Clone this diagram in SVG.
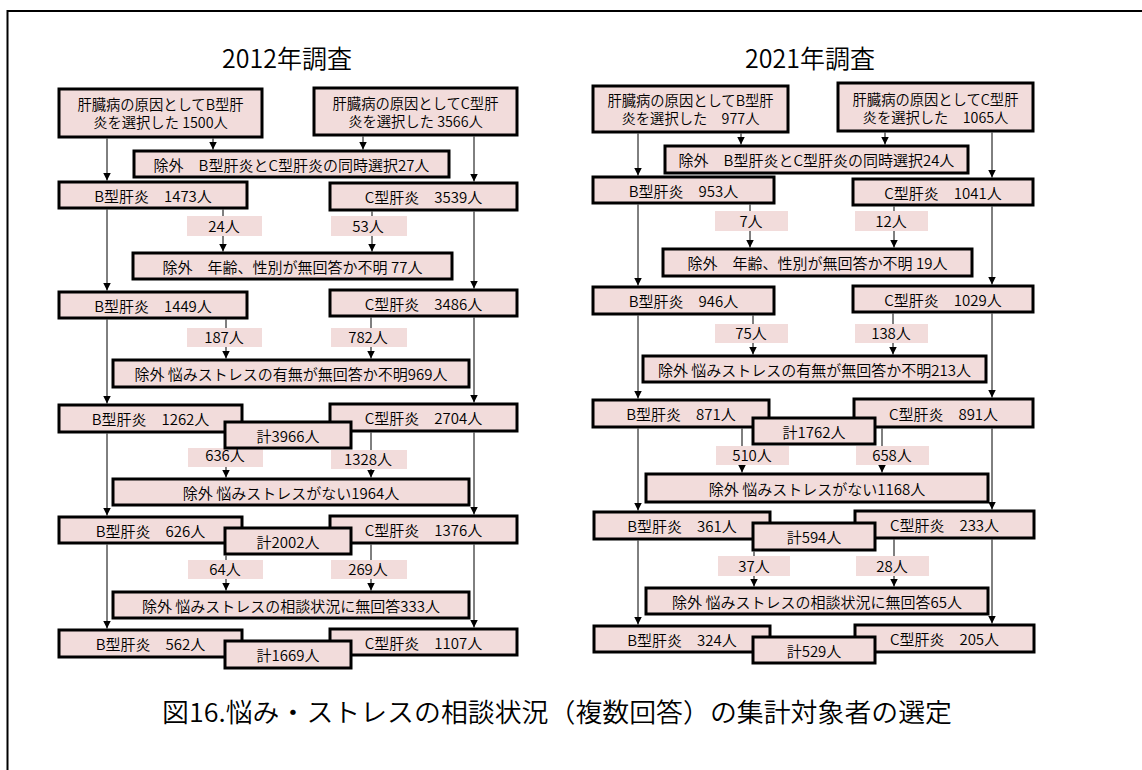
<svg xmlns="http://www.w3.org/2000/svg" width="1142" height="770" viewBox="0 0 1142 770">
<defs>
<marker id="ah" markerUnits="userSpaceOnUse" markerWidth="8" markerHeight="8" viewBox="0 0 8 8" refX="8" refY="4" orient="auto">
<path d="M0,0 L8,4 L0,8 z" fill="#000"/>
</marker>
<style>
.bx{fill:#F2DCDB;stroke:#000;stroke-width:3}
.lb{fill:#F2DCDB;stroke:none}
.t{font-family:"Noto Sans CJK JP","Noto Sans",sans-serif;font-size:15px;font-weight:350;fill:#000;text-anchor:middle}
.t2{font-size:14.3px}
.h{font-family:"Noto Sans CJK JP","Noto Sans",sans-serif;font-size:25px;font-weight:350;fill:#000;text-anchor:middle}
.cap{font-family:"Noto Sans CJK JP","Noto Sans",sans-serif;font-size:26px;font-weight:350;fill:#000}
.c line{stroke:#000;stroke-width:1;marker-end:url(#ah)}
</style>
</defs>
<rect width="1142" height="770" fill="#fff"/>
<rect x="7.5" y="11" width="1200" height="800" fill="none" stroke="#000" stroke-width="2"/>

<text class="h" x="287" y="68">2012年調査</text>
<text class="h" x="810" y="68">2021年調査</text>

<g id="connectors" class="c">
<!-- 2012 -->
<line x1="107" y1="138.5" x2="107" y2="180.5"/>
<line x1="107" y1="209.5" x2="107" y2="290.5"/>
<line x1="107" y1="319.5" x2="107" y2="403.5"/>
<line x1="107" y1="433.5" x2="107" y2="515.5"/>
<line x1="107" y1="544.5" x2="107" y2="628.5"/>
<line x1="474" y1="136.5" x2="474" y2="181.5"/>
<line x1="474" y1="211.5" x2="474" y2="288.5"/>
<line x1="474" y1="317.5" x2="474" y2="402.5"/>
<line x1="474" y1="432.5" x2="474" y2="514.5"/>
<line x1="474" y1="544.5" x2="474" y2="627.5"/>
<line x1="213" y1="138.5" x2="213" y2="149.5"/>
<line x1="363" y1="136.5" x2="363" y2="149.5"/>
<line x1="223" y1="209.5" x2="223" y2="251.5"/>
<line x1="372" y1="211.5" x2="372" y2="251.5"/>
<line x1="226" y1="319.5" x2="226" y2="358.5"/>
<line x1="371" y1="317.5" x2="371" y2="358.5"/>
<line x1="226" y1="449.5" x2="226" y2="477.5"/>
<line x1="371" y1="432.5" x2="371" y2="477.5"/>
<line x1="226" y1="555.5" x2="226" y2="590.5"/>
<line x1="371" y1="544.5" x2="371" y2="590.5"/>
<!-- 2021 -->
<line x1="638" y1="133.5" x2="638" y2="175.5"/>
<line x1="638" y1="204.5" x2="638" y2="285.5"/>
<line x1="638" y1="315.5" x2="638" y2="398.5"/>
<line x1="638" y1="428.5" x2="638" y2="510.5"/>
<line x1="638" y1="540.5" x2="638" y2="624.5"/>
<line x1="992" y1="132.5" x2="992" y2="177.5"/>
<line x1="992" y1="206.5" x2="992" y2="284.5"/>
<line x1="992" y1="313.5" x2="992" y2="397.5"/>
<line x1="992" y1="428.5" x2="992" y2="509.5"/>
<line x1="992" y1="539.5" x2="992" y2="623.5"/>
<line x1="741" y1="133.5" x2="741" y2="144.5"/>
<line x1="885" y1="132.5" x2="885" y2="144.5"/>
<line x1="750" y1="204.5" x2="750" y2="247.5"/>
<line x1="894" y1="206.5" x2="894" y2="247.5"/>
<line x1="753" y1="315.5" x2="753" y2="354.5"/>
<line x1="893" y1="313.5" x2="893" y2="354.5"/>
<line x1="742" y1="428.5" x2="742" y2="472.5"/>
<line x1="882" y1="428.5" x2="882" y2="472.5"/>
<line x1="754" y1="551.5" x2="754" y2="586.5"/>
<line x1="894" y1="539.5" x2="894" y2="586.5"/>
</g>

<g id="labels">
<g id="l2012-1"><rect class="lb" x="187" y="216" width="75" height="20"/><text class="t" x="224" y="232">24人</text></g>
<g id="l2012-2"><rect class="lb" x="331" y="216" width="76" height="20"/><text class="t" x="368" y="232">53人</text></g>
<g id="l2012-3"><rect class="lb" x="187" y="328" width="75" height="19"/><text class="t" x="224" y="343">187人</text></g>
<g id="l2012-4"><rect class="lb" x="331" y="328" width="76" height="19"/><text class="t" x="368" y="343">782人</text></g>
<g id="l2012-5"><rect class="lb" x="188" y="448" width="75" height="19"/><text class="t" x="225" y="461">636人</text></g>
<g id="l2012-6"><rect class="lb" x="331" y="450" width="76" height="19"/><text class="t" x="368" y="465">1328人</text></g>
<g id="l2012-7"><rect class="lb" x="188" y="560" width="75" height="19"/><text class="t" x="225" y="575">64人</text></g>
<g id="l2012-8"><rect class="lb" x="331" y="560" width="76" height="19"/><text class="t" x="368" y="575">269人</text></g>
<g id="l2021-1"><rect class="lb" x="715" y="211" width="73" height="20"/><text class="t" x="751" y="227">7人</text></g>
<g id="l2021-2"><rect class="lb" x="855" y="211" width="73" height="20"/><text class="t" x="891" y="227">12人</text></g>
<g id="l2021-3"><rect class="lb" x="715" y="324" width="73" height="19"/><text class="t" x="751" y="339">75人</text></g>
<g id="l2021-4"><rect class="lb" x="855" y="324" width="73" height="19"/><text class="t" x="891" y="339">138人</text></g>
<g id="l2021-5"><rect class="lb" x="716" y="446" width="73" height="19"/><text class="t" x="752" y="461">510人</text></g>
<g id="l2021-6"><rect class="lb" x="856" y="446" width="73" height="19"/><text class="t" x="892" y="461">658人</text></g>
<g id="l2021-7"><rect class="lb" x="718" y="556" width="72" height="20"/><text class="t" x="754" y="572">37人</text></g>
<g id="l2021-8"><rect class="lb" x="856" y="556" width="73" height="20"/><text class="t" x="892" y="572">28人</text></g>
</g>

<!-- 2012 nodes -->
<g id="n2012-b0"><rect class="bx" x="59" y="89" width="203" height="48"/><text class="t t2" x="160.5" y="110">肝臓病の原因としてB型肝<tspan x="160.5" dy="18">炎を選択した 1500人</tspan></text></g>
<g id="n2012-c0"><rect class="bx" x="314" y="88" width="203" height="47"/><text class="t t2" x="415.5" y="108.5">肝臓病の原因としてC型肝<tspan x="415.5" dy="18">炎を選択した 3566人</tspan></text></g>
<g id="n2012-e1"><rect class="bx" x="134" y="151" width="315" height="26"/><text class="t" x="291.5" y="170.5">除外　B型肝炎とC型肝炎の同時選択27人</text></g>
<g id="n2012-b1"><rect class="bx" x="59" y="182" width="188" height="26"/><text class="t" x="153" y="201.5">B型肝炎　1473人</text></g>
<g id="n2012-c1"><rect class="bx" x="330" y="183" width="187" height="27"/><text class="t" x="423.5" y="203">C型肝炎　3539人</text></g>
<g id="n2012-e2"><rect class="bx" x="133" y="253" width="319" height="26"/><text class="t" x="292.5" y="272.5">除外　年齢、性別が無回答か不明 77人</text></g>
<g id="n2012-b2"><rect class="bx" x="59" y="292" width="188" height="26"/><text class="t" x="153" y="311.5">B型肝炎　1449人</text></g>
<g id="n2012-c2"><rect class="bx" x="330" y="290" width="187" height="26"/><text class="t" x="423.5" y="309.5">C型肝炎　3486人</text></g>
<g id="n2012-e3"><rect class="bx" x="113" y="360" width="356" height="27"/><text class="t" x="291" y="380">除外 悩みストレスの有無が無回答か不明969人</text></g>
<g id="n2012-b3"><rect class="bx" x="59" y="405" width="183" height="27"/><text class="t" x="150.5" y="425">B型肝炎　1262人</text></g>
<g id="n2012-c3"><rect class="bx" x="330" y="404" width="187" height="27"/><text class="t" x="423.5" y="424">C型肝炎　2704人</text></g>
<g id="n2012-s3"><rect class="bx" x="225" y="422" width="126" height="26"/><text class="t" x="288" y="441.5">計3966人</text></g>
<g id="n2012-e4"><rect class="bx" x="113" y="479" width="356" height="26"/><text class="t" x="291" y="498.5">除外 悩みストレスがない1964人</text></g>
<g id="n2012-b4"><rect class="bx" x="59" y="517" width="183" height="26"/><text class="t" x="150.5" y="536.5">B型肝炎　626人</text></g>
<g id="n2012-c4"><rect class="bx" x="330" y="516" width="187" height="27"/><text class="t" x="423.5" y="536">C型肝炎　1376人</text></g>
<g id="n2012-s4"><rect class="bx" x="225" y="528" width="126" height="26"/><text class="t" x="288" y="547.5">計2002人</text></g>
<g id="n2012-e5"><rect class="bx" x="113" y="592" width="356" height="26"/><text class="t" x="291" y="611.5">除外 悩みストレスの相談状況に無回答333人</text></g>
<g id="n2012-b5"><rect class="bx" x="59" y="630" width="183" height="27"/><text class="t" x="150.5" y="650">B型肝炎　562人</text></g>
<g id="n2012-c5"><rect class="bx" x="330" y="629" width="187" height="26"/><text class="t" x="423.5" y="648.5">C型肝炎　1107人</text></g>
<g id="n2012-s5"><rect class="bx" x="225" y="641" width="126" height="27"/><text class="t" x="288" y="661">計1669人</text></g>

<!-- 2021 nodes -->
<g id="n2021-b0"><rect class="bx" x="593" y="86" width="195" height="46"/><text class="t t2" x="690.5" y="106">肝臓病の原因としてB型肝<tspan x="690.5" dy="18">炎を選択した　977人</tspan></text></g>
<g id="n2021-c0"><rect class="bx" x="838" y="83" width="195" height="48"/><text class="t t2" x="935.5" y="104.5">肝臓病の原因としてC型肝<tspan x="935.5" dy="18">炎を選択した　1065人</tspan></text></g>
<g id="n2021-e1"><rect class="bx" x="665" y="146" width="303" height="27"/><text class="t" x="816.5" y="166">除外　B型肝炎とC型肝炎の同時選択24人</text></g>
<g id="n2021-b1"><rect class="bx" x="593" y="177" width="181" height="26"/><text class="t" x="683.5" y="196.5">B型肝炎　953人</text></g>
<g id="n2021-c1"><rect class="bx" x="853" y="179" width="180" height="26"/><text class="t" x="943" y="198.5">C型肝炎　1041人</text></g>
<g id="n2021-e2"><rect class="bx" x="663" y="249" width="309" height="27"/><text class="t" x="817.5" y="269">除外　年齢、性別が無回答か不明 19人</text></g>
<g id="n2021-b2"><rect class="bx" x="593" y="287" width="181" height="27"/><text class="t" x="683.5" y="307">B型肝炎　946人</text></g>
<g id="n2021-c2"><rect class="bx" x="853" y="286" width="180" height="26"/><text class="t" x="943" y="305.5">C型肝炎　1029人</text></g>
<g id="n2021-e3"><rect class="bx" x="643" y="356" width="343" height="26"/><text class="t" x="814.5" y="375.5">除外 悩みストレスの有無が無回答か不明213人</text></g>
<g id="n2021-b3"><rect class="bx" x="593" y="400" width="176" height="27"/><text class="t" x="681" y="420">B型肝炎　871人</text></g>
<g id="n2021-c3"><rect class="bx" x="854" y="399" width="179" height="28"/><text class="t" x="943.5" y="419.5">C型肝炎　891人</text></g>
<g id="n2021-s3"><rect class="bx" x="753" y="418" width="122" height="26"/><text class="t" x="814" y="437.5">計1762人</text></g>
<g id="n2021-e4"><rect class="bx" x="646" y="474" width="342" height="28"/><text class="t" x="817" y="494.5">除外 悩みストレスがない1168人</text></g>
<g id="n2021-b4"><rect class="bx" x="594" y="512" width="176" height="27"/><text class="t" x="682" y="532">B型肝炎　361人</text></g>
<g id="n2021-c4"><rect class="bx" x="855" y="511" width="179" height="27"/><text class="t" x="944.5" y="531">C型肝炎　233人</text></g>
<g id="n2021-s4"><rect class="bx" x="753" y="523" width="122" height="27"/><text class="t" x="814" y="543">計594人</text></g>
<g id="n2021-e5"><rect class="bx" x="646" y="588" width="342" height="26"/><text class="t" x="817" y="607.5">除外 悩みストレスの相談状況に無回答65人</text></g>
<g id="n2021-b5"><rect class="bx" x="594" y="626" width="176" height="26"/><text class="t" x="682" y="645.5">B型肝炎　324人</text></g>
<g id="n2021-c5"><rect class="bx" x="855" y="625" width="179" height="27"/><text class="t" x="944.5" y="645">C型肝炎　205人</text></g>
<g id="n2021-s5"><rect class="bx" x="753" y="637" width="122" height="26"/><text class="t" x="814" y="656.5">計529人</text></g>

<text class="cap" x="162" y="722" textLength="790" lengthAdjust="spacingAndGlyphs">図16.悩み・ストレスの相談状況（複数回答）の集計対象者の選定</text>
</svg>
